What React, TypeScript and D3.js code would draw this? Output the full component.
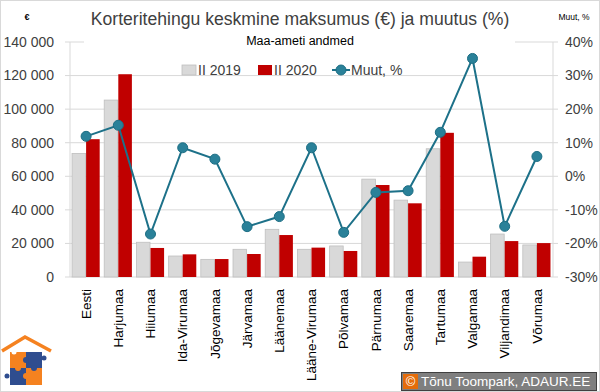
import React from 'react';
import * as d3 from 'd3';

const categories = [
  'Eesti', 'Harjumaa', 'Hiiumaa', 'Ida-Virumaa', 'Jõgevamaa', 'Järvamaa', 'Läänemaa',
  'Lääne-Virumaa', 'Põlvamaa', 'Pärnumaa', 'Saaremaa', 'Tartumaa', 'Valgamaa', 'Viljandimaa', 'Võrumaa',
];
const price2019 = [73600, 105400, 20700, 12500, 10500, 16500, 28400, 16500, 18500, 58300, 45800, 76400, 8900, 25600, 19100];
const price2020 = [82100, 120800, 17300, 13500, 10700, 13700, 25000, 17500, 15500, 54800, 43900, 85900, 12100, 21400, 20200];
const change = [11.9, 15.2, -17.2, 8.5, 5.1, -15.0, -12.0, 8.5, -16.7, -4.8, -4.3, 13.1, 35.1, -14.9, 5.9];
const leftTicks = [0, 20000, 40000, 60000, 80000, 100000, 120000, 140000];
const rightTicks = [-30, -20, -10, 0, 10, 20, 30, 40];

const W = 600;
const H = 392;
const plot = { left: 70, right: 553, top: 42, bottom: 277 };
const font = '"Liberation Sans", Arial, sans-serif';
const textColor = '#404040';

export default function App() {
  const x = d3.scaleBand<string>().domain(categories).range([plot.left, plot.right]).paddingInner(0.125).paddingOuter(0.0625);
  const x1 = d3.scaleBand<string>().domain(['2019', '2020']).range([0, x.bandwidth()]);
  const yL = d3.scaleLinear().domain([0, 140000]).range([plot.bottom, plot.top]);
  const yR = d3.scaleLinear().domain([-30, 40]).range([plot.bottom, plot.top]);
  const fmt = (v: number) => d3.format(',')(v).replace(/,/g, ' ');

  const line = d3
    .line<number>()
    .x((_, i) => (x(categories[i]) ?? 0) + x.bandwidth() / 2)
    .y((d) => yR(d));

  return (
    <svg width={W} height={H} style={{ position: 'absolute', left: 0, top: 0, background: '#fff' }} fontFamily={font}>
      <rect x={0.5} y={0.5} width={W - 1} height={H - 1} fill="#fff" stroke="#d9d9d9" />

      {/* grid */}
      {leftTicks.map((t) => (
        <line key={`g-${t}`} x1={plot.left - 5} x2={plot.right + 5} y1={yL(t)} y2={yL(t)} stroke="#d9d9d9" strokeWidth={1} />
      ))}
      <line x1={plot.left} x2={plot.left} y1={plot.top} y2={plot.bottom} stroke="#d9d9d9" />
      <line x1={plot.right} x2={plot.right} y1={plot.top} y2={plot.bottom} stroke="#d9d9d9" />
      <rect x={84} y={30} width={431} height={20} fill="#fff" />

      {/* title */}
      <text x={300} y={25} textAnchor="middle" fontSize={17.6} fill={textColor}>
        Korteritehingu keskmine maksumus (€) ja muutus (%)
      </text>
      <text x={300} y={45} textAnchor="middle" fontSize={12.5} fill="#000">
        Maa-ameti andmed
      </text>
      <text x={27} y={20} textAnchor="middle" fontSize={9} fontWeight="bold" fill="#000">€</text>
      <text x={574} y={20} textAnchor="middle" fontSize={8.5} fill="#000">Muut, %</text>

      {/* axes labels */}
      {leftTicks.map((t) => (
        <text key={`l-${t}`} x={54} y={yL(t)} dy="0.35em" textAnchor="end" fontSize={14} fill={textColor}>
          {fmt(t)}
        </text>
      ))}
      {rightTicks.map((t) => (
        <text key={`r-${t}`} x={565} y={yR(t)} dy="0.35em" textAnchor="start" fontSize={14} fill={textColor}>
          {`${t}%`}
        </text>
      ))}
      {categories.map((c) => {
        const cx = (x(c) ?? 0) + x.bandwidth() / 2;
        return (
          <text key={`c-${c}`} transform={`translate(${cx},${plot.bottom + 12}) rotate(-90)`} dy="0.35em" textAnchor="end" fontSize={13.5} fill="#000">
            {c}
          </text>
        );
      })}

      {/* bars */}
      {categories.map((c, i) => {
        const bx = x(c) ?? 0;
        return (
          <g key={`b-${c}`}>
            <rect x={bx + (x1('2019') ?? 0)} y={yL(price2019[i])} width={x1.bandwidth() - 0.5} height={plot.bottom - yL(price2019[i])} fill="#d9d9d9" stroke="#bfbfbf" strokeWidth={0.8} />
            <rect x={bx + (x1('2020') ?? 0)} y={yL(price2020[i])} width={x1.bandwidth() - 0.5} height={plot.bottom - yL(price2020[i])} fill="#c00000" />
          </g>
        );
      })}

      {/* change line */}
      <path d={line(change) ?? ''} fill="none" stroke="#1d7189" strokeWidth={2} />
      {change.map((v, i) => (
        <circle key={`p-${i}`} cx={(x(categories[i]) ?? 0) + x.bandwidth() / 2} cy={yR(v)} r={5} fill="#2a8199" stroke="#1d6e84" strokeWidth={1} />
      ))}

      {/* legend */}
      <g fontSize={14} fill={textColor}>
        <rect x={182} y={65} width={14} height={10} fill="#d9d9d9" stroke="#bfbfbf" strokeWidth={0.8} />
        <text x={198} y={70} dy="0.35em">II 2019</text>
        <rect x={258} y={65} width={14} height={10} fill="#c00000" />
        <text x={274} y={70} dy="0.35em">II 2020</text>
        <line x1={332} x2={350} y1={70} y2={70} stroke="#1d7189" strokeWidth={2} />
        <circle cx={341} cy={70} r={5} fill="#2a8199" stroke="#1d6e84" />
        <text x={351} y={70} dy="0.35em">Muut, %</text>
      </g>

      {/* logo */}
      <g>
        <path d="M2,351 L25,337 L51,351" fill="none" stroke="#f58220" strokeWidth={3.5} strokeLinejoin="miter" />
        <rect x={10} y={352} width={16} height={16} fill="#f58220" />
        <rect x={26} y={352} width={16} height={16} fill="#2f4d8f" />
        <rect x={10} y={368} width={16} height={17} fill="#2f4d8f" />
        <rect x={26} y={368} width={16} height={17} fill="#f58220" />
        <circle cx={26} cy={360} r={3} fill="#2f4d8f" />
        <circle cx={18} cy={368} r={3} fill="#f58220" />
        <circle cx={34} cy={368} r={3} fill="#2f4d8f" />
        <circle cx={26} cy={376} r={3} fill="#f58220" />
        <circle cx={7} cy={376} r={2.5} fill="#2f4d8f" />
        <circle cx={44} cy={358} r={2.5} fill="#2f4d8f" />
        <circle cx={14} cy={352} r={2.5} fill="#fff" />
      </g>

      {/* copyright */}
      <g>
        <rect x={401.5} y={372.5} width={195} height={18} fill="#7f7f7f" stroke="#404040" />
        <rect x={403} y={374} width={15} height={15} fill="#e46c0a" />
        <text x={410.5} y={381.5} dy="0.35em" textAnchor="middle" fontSize={13} fill="#fff">©</text>
        <text x={421} y={381.5} dy="0.35em" fontSize={13.5} fill="#fff">Tõnu Toompark, ADAUR.EE</text>
      </g>
    </svg>
  );
}
